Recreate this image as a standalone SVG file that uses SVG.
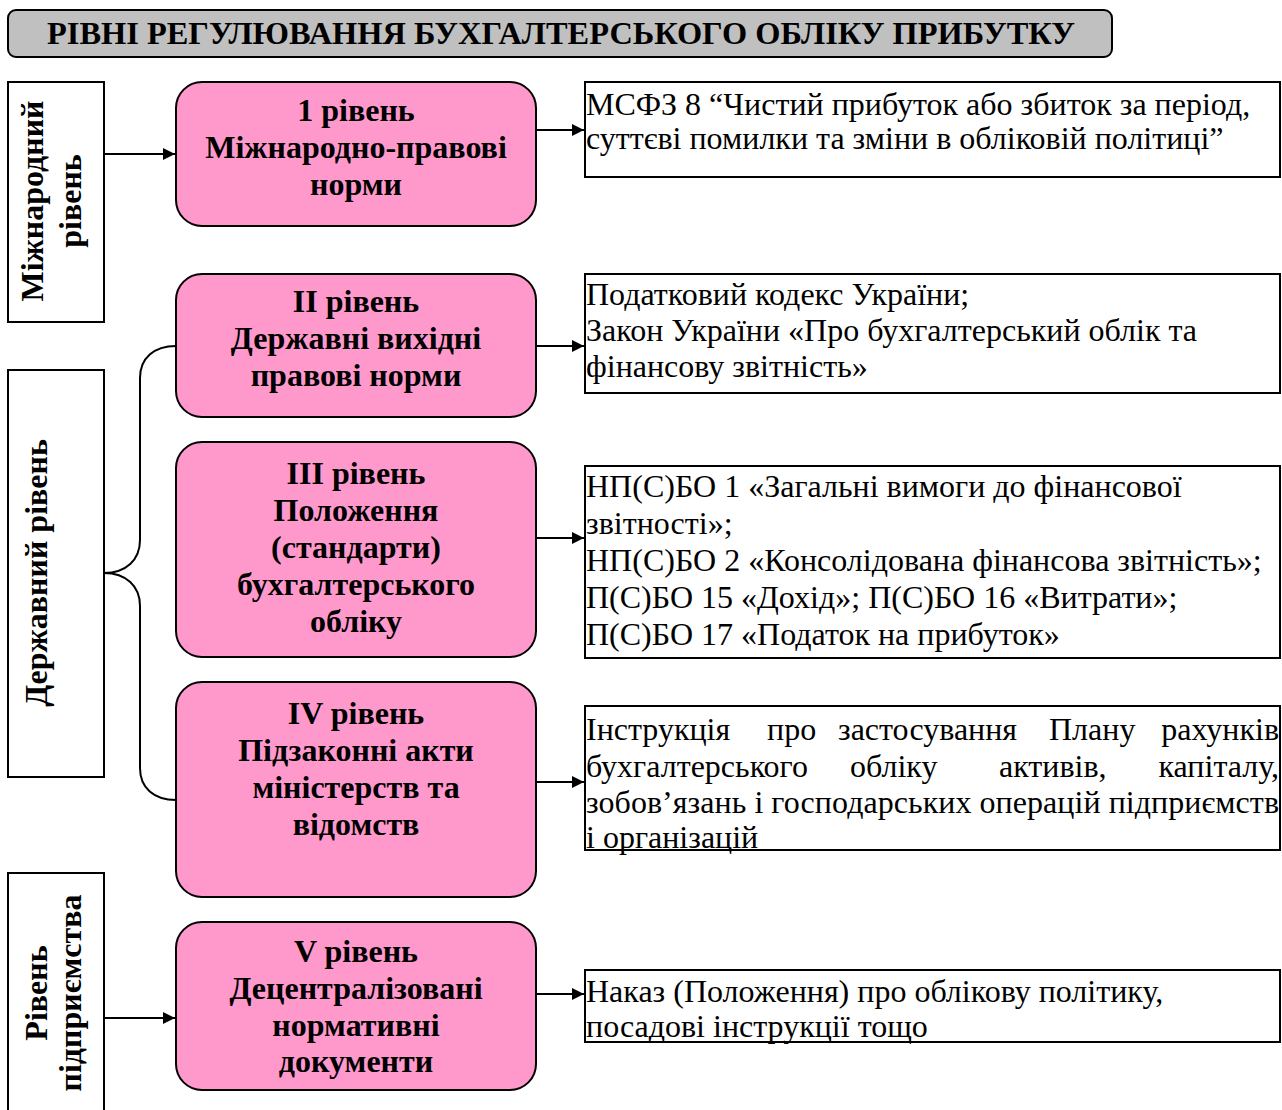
<svg xmlns="http://www.w3.org/2000/svg" width="1282" height="1110" viewBox="0 0 1282 1110">
<defs>
<style>
.bx{fill:#fff;stroke:#000;stroke-width:2}
.pk{fill:#ff99cc;stroke:#000;stroke-width:2}
.ttl{fill:#c0c0c0;stroke:#000;stroke-width:2}
.bc{font-family:"Liberation Serif","Times New Roman",serif;font-weight:bold;font-size:32px;fill:#000;text-anchor:middle}
.r{font-family:"Liberation Serif","Times New Roman",serif;font-size:32px;fill:#000}
.ln{fill:none;stroke:#000;stroke-width:2}
</style>
<marker id="ah" viewBox="0 0 10 10" refX="10" refY="5" markerWidth="7.5" markerHeight="6" markerUnits="strokeWidth" orient="auto">
<path d="M0,0 L10,5 L0,10 z" fill="#000"/>
</marker>
</defs>
<rect width="1282" height="1110" fill="#fff"/>

<g id="title">
<rect class="ttl" x="8" y="10" width="1104" height="47" rx="8"/>
<text class="bc" x="561" y="44" style="font-size:31px" textLength="1028" lengthAdjust="spacingAndGlyphs">РІВНІ РЕГУЛЮВАННЯ БУХГАЛТЕРСЬКОГО ОБЛІКУ ПРИБУТКУ</text>
</g>

<g id="intl-level">
<rect class="bx" x="8" y="82" width="96" height="240"/>
<text class="bc" transform="translate(43,201) rotate(-90)">Міжнародний</text>
<text class="bc" transform="translate(81,201) rotate(-90)">рівень</text>
</g>

<g id="state-level">
<rect class="bx" x="8" y="370" width="96" height="407"/>
<text class="bc" transform="translate(47,573) rotate(-90)">Державний рівень</text>
</g>

<g id="enterprise-level">
<rect class="bx" x="8" y="873" width="96" height="260"/>
<text class="bc" transform="translate(47,993) rotate(-90)">Рівень</text>
<text class="bc" transform="translate(81,993) rotate(-90)">підприємства</text>
</g>

<g id="level1">
<rect class="pk" x="176" y="82" width="360" height="144" rx="26"/>
<text class="bc" x="356" y="121">1 рівень</text>
<text class="bc" x="356" y="158">Міжнародно-правові</text>
<text class="bc" x="356" y="195">норми</text>
</g>

<g id="level2">
<rect class="pk" x="176" y="274" width="360" height="143" rx="26"/>
<text class="bc" x="356" y="312">II рівень</text>
<text class="bc" x="356" y="349">Державні вихідні</text>
<text class="bc" x="356" y="386">правові норми</text>
</g>

<g id="level3">
<rect class="pk" x="176" y="442" width="360" height="215" rx="26"/>
<text class="bc" x="356" y="484">III рівень</text>
<text class="bc" x="356" y="521">Положення</text>
<text class="bc" x="356" y="558">(стандарти)</text>
<text class="bc" x="356" y="595">бухгалтерського</text>
<text class="bc" x="356" y="632">обліку</text>
</g>

<g id="level4">
<rect class="pk" x="176" y="682" width="360" height="215" rx="26"/>
<text class="bc" x="356" y="724">IV рівень</text>
<text class="bc" x="356" y="761">Підзаконні акти</text>
<text class="bc" x="356" y="798">міністерств та</text>
<text class="bc" x="356" y="835">відомств</text>
</g>

<g id="level5">
<rect class="pk" x="176" y="922" width="360" height="168" rx="26"/>
<text class="bc" x="356" y="962">V рівень</text>
<text class="bc" x="356" y="999">Децентралізовані</text>
<text class="bc" x="356" y="1036">нормативні</text>
<text class="bc" x="356" y="1072">документи</text>
</g>

<g id="doc1">
<rect class="bx" x="585" y="82" width="695" height="95"/>
<text class="r" x="586" y="115">МСФЗ 8 “Чистий прибуток або збиток за період,</text>
<text class="r" x="586" y="149">суттєві помилки та зміни в обліковій політиці”</text>
</g>

<g id="doc2">
<rect class="bx" x="585" y="274" width="695" height="119"/>
<text class="r" x="586" y="305">Податковий кодекс України;</text>
<text class="r" x="586" y="341">Закон України «Про бухгалтерський облік та</text>
<text class="r" x="586" y="377">фінансову звітність»</text>
</g>

<g id="doc3">
<rect class="bx" x="585" y="466" width="695" height="192"/>
<text class="r" x="586" y="497">НП(С)БО 1 «Загальні вимоги до фінансової</text>
<text class="r" x="586" y="534">звітності»;</text>
<text class="r" x="586" y="571">НП(С)БО 2 «Консолідована фінансова звітність»;</text>
<text class="r" x="586" y="608">П(С)БО 15 «Дохід»; П(С)БО 16 «Витрати»;</text>
<text class="r" x="586" y="645">П(С)БО 17 «Податок на прибуток»</text>
</g>

<g id="doc4">
<rect class="bx" x="585" y="706" width="695" height="144"/>
<text class="r" y="740"><tspan x="586">Інструкція</tspan><tspan x="767">про</tspan><tspan x="838">застосування</tspan><tspan x="1049">Плану</tspan><tspan x="1279" text-anchor="end">рахунків</tspan></text>
<text class="r" y="777"><tspan x="586">бухгалтерського</tspan><tspan x="850">обліку</tspan><tspan x="999">активів,</tspan><tspan x="1279" text-anchor="end">капіталу,</tspan></text>
<text class="r" x="586" y="813" textLength="693" lengthAdjust="spacing">зобов’язань і господарських операцій підприємств</text>
<text class="r" x="586" y="848">і організацій</text>
</g>

<g id="doc5">
<rect class="bx" x="585" y="970" width="695" height="72"/>
<text class="r" x="586" y="1002">Наказ (Положення) про облікову політику,</text>
<text class="r" x="586" y="1037">посадові інструкції тощо</text>
</g>

<g id="connectors">
<line class="ln" x1="104" y1="154" x2="175" y2="154" marker-end="url(#ah)"/>
<line class="ln" x1="104" y1="1018" x2="175" y2="1018" marker-end="url(#ah)"/>
<path class="ln" d="M104,573 C126,573 140,560 140,540 L140,378 C140,358 154,346 176,346"/>
<path class="ln" d="M104,573 C126,573 140,586 140,606 L140,768 C140,788 154,800 176,800"/>
<line class="ln" x1="536" y1="130" x2="584" y2="130" marker-end="url(#ah)"/>
<line class="ln" x1="536" y1="346" x2="584" y2="346" marker-end="url(#ah)"/>
<line class="ln" x1="536" y1="538" x2="584" y2="538" marker-end="url(#ah)"/>
<line class="ln" x1="536" y1="782" x2="584" y2="782" marker-end="url(#ah)"/>
<line class="ln" x1="536" y1="994" x2="584" y2="994" marker-end="url(#ah)"/>
</g>
</svg>
